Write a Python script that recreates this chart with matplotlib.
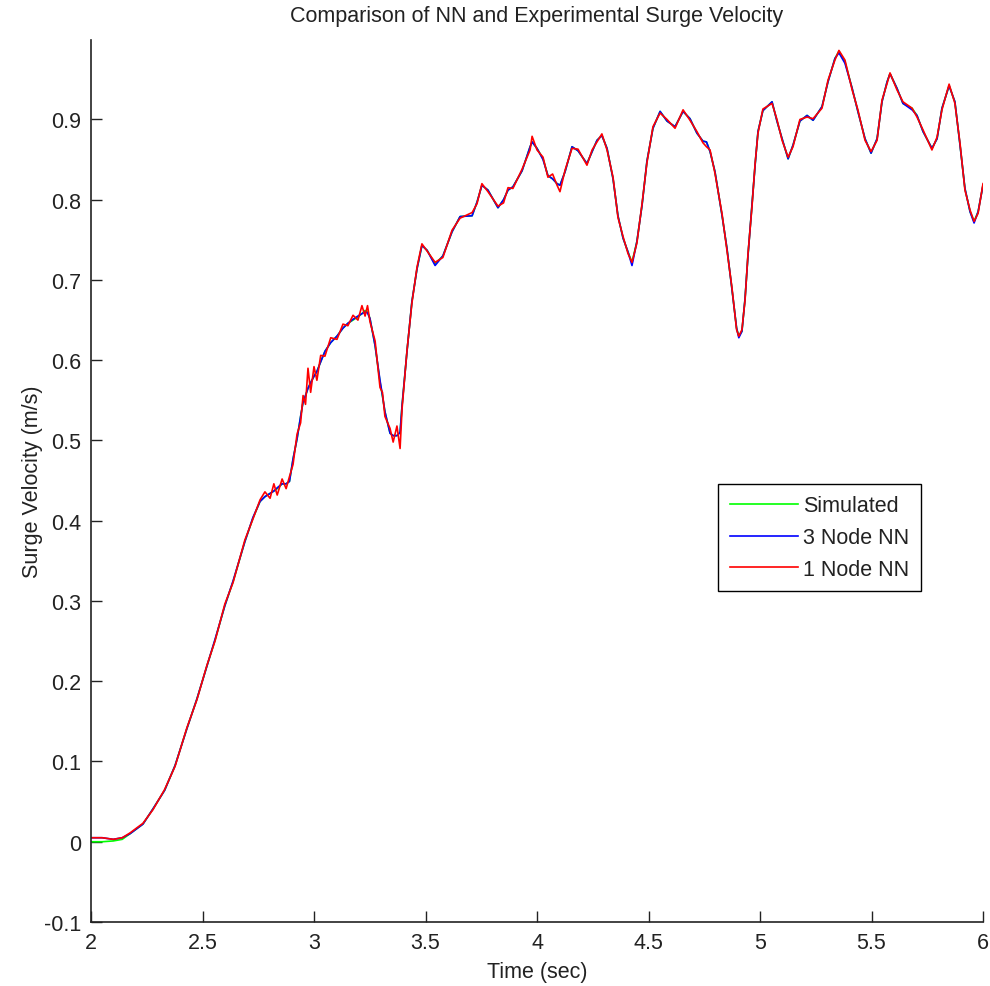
import matplotlib.pyplot as plt
import numpy as np

plt.rcParams['font.family'] = ['Liberation Sans', 'DejaVu Sans']

# Time samples (sec)
time = [2.000, 2.050, 2.100, 2.140, 2.175, 2.233, 2.278, 2.330, 2.377, 2.430,
        2.475, 2.520, 2.556, 2.600, 2.637, 2.690, 2.726, 2.758, 2.780, 2.803,
        2.820, 2.835, 2.857, 2.875, 2.890, 2.906, 2.924, 2.940, 2.951, 2.962,
        2.973, 2.985, 3.000, 3.013, 3.030, 3.049, 3.075, 3.103, 3.130, 3.152,
        3.175, 3.197, 3.215, 3.229, 3.240, 3.251, 3.274, 3.296, 3.307, 3.318,
        3.341, 3.355, 3.372, 3.386, 3.395, 3.417, 3.439, 3.462, 3.484, 3.507,
        3.543, 3.578, 3.619, 3.655, 3.709, 3.731, 3.753, 3.780, 3.825, 3.850,
        3.870, 3.892, 3.933, 3.969, 3.978, 4.000, 4.027, 4.049, 4.070, 4.090,
        4.103, 4.126, 4.157, 4.184, 4.224, 4.247, 4.269, 4.291, 4.314, 4.341,
        4.363, 4.386, 4.408, 4.426, 4.448, 4.471, 4.493, 4.520, 4.552, 4.583,
        4.619, 4.655, 4.686, 4.717, 4.744, 4.760, 4.776, 4.798, 4.830, 4.852,
        4.874, 4.895, 4.905, 4.919, 4.933, 4.946, 4.964, 4.978, 4.991, 5.013,
        5.054, 5.076, 5.099, 5.126, 5.148, 5.179, 5.211, 5.238, 5.278, 5.305,
        5.336, 5.354, 5.381, 5.413, 5.439, 5.471, 5.498, 5.525, 5.547, 5.570,
        5.583, 5.614, 5.641, 5.682, 5.704, 5.731, 5.771, 5.794, 5.816, 5.848,
        5.874, 5.897, 5.919, 5.942, 5.960, 5.978, 6.000]

# Surge velocity (m/s)
simulated = [0.000, 0.000, 0.001, 0.003, 0.010, 0.022, 0.041, 0.064, 0.095, 0.141,
             0.178, 0.219, 0.251, 0.294, 0.324, 0.374, 0.403, 0.424, 0.430, 0.434,
             0.437, 0.440, 0.446, 0.446, 0.449, 0.477, 0.502, 0.530, 0.548, 0.556,
             0.565, 0.572, 0.580, 0.586, 0.598, 0.611, 0.622, 0.630, 0.640, 0.646,
             0.650, 0.654, 0.658, 0.662, 0.660, 0.652, 0.618, 0.573, 0.555, 0.536,
             0.509, 0.506, 0.506, 0.510, 0.544, 0.611, 0.673, 0.714, 0.743, 0.737,
             0.720, 0.730, 0.760, 0.779, 0.780, 0.797, 0.818, 0.812, 0.790, 0.800,
             0.812, 0.816, 0.836, 0.866, 0.872, 0.864, 0.851, 0.830, 0.826, 0.820,
             0.818, 0.835, 0.866, 0.861, 0.845, 0.860, 0.874, 0.880, 0.864, 0.826,
             0.780, 0.752, 0.735, 0.722, 0.748, 0.793, 0.848, 0.889, 0.910, 0.898,
             0.891, 0.910, 0.901, 0.883, 0.873, 0.872, 0.860, 0.835, 0.780, 0.739,
             0.689, 0.640, 0.630, 0.636, 0.677, 0.730, 0.793, 0.843, 0.885, 0.911,
             0.922, 0.898, 0.876, 0.851, 0.868, 0.898, 0.905, 0.899, 0.916, 0.947,
             0.976, 0.985, 0.972, 0.939, 0.910, 0.876, 0.858, 0.876, 0.922, 0.947,
             0.957, 0.939, 0.920, 0.914, 0.905, 0.885, 0.864, 0.876, 0.914, 0.942,
             0.922, 0.868, 0.814, 0.785, 0.773, 0.785, 0.818]

nn_3node = [0.005, 0.005, 0.003, 0.005, 0.010, 0.022, 0.041, 0.064, 0.095, 0.141,
            0.178, 0.219, 0.252, 0.294, 0.325, 0.374, 0.404, 0.424, 0.430, 0.434,
            0.437, 0.441, 0.446, 0.446, 0.449, 0.477, 0.502, 0.530, 0.548, 0.556,
            0.565, 0.572, 0.580, 0.586, 0.598, 0.611, 0.622, 0.630, 0.640, 0.646,
            0.651, 0.655, 0.658, 0.660, 0.659, 0.652, 0.618, 0.575, 0.556, 0.536,
            0.509, 0.506, 0.506, 0.510, 0.544, 0.611, 0.673, 0.714, 0.743, 0.737,
            0.718, 0.730, 0.760, 0.779, 0.780, 0.797, 0.818, 0.812, 0.790, 0.800,
            0.812, 0.816, 0.836, 0.866, 0.872, 0.864, 0.850, 0.830, 0.826, 0.820,
            0.818, 0.835, 0.866, 0.861, 0.845, 0.860, 0.874, 0.880, 0.864, 0.826,
            0.780, 0.752, 0.735, 0.718, 0.748, 0.793, 0.848, 0.889, 0.910, 0.898,
            0.891, 0.910, 0.901, 0.883, 0.873, 0.872, 0.860, 0.835, 0.780, 0.739,
            0.689, 0.640, 0.628, 0.636, 0.677, 0.730, 0.793, 0.843, 0.885, 0.911,
            0.922, 0.898, 0.876, 0.851, 0.868, 0.898, 0.905, 0.899, 0.916, 0.947,
            0.976, 0.983, 0.970, 0.939, 0.910, 0.876, 0.858, 0.876, 0.922, 0.947,
            0.957, 0.939, 0.920, 0.912, 0.905, 0.885, 0.864, 0.876, 0.914, 0.942,
            0.922, 0.868, 0.814, 0.785, 0.771, 0.785, 0.818]

nn_1node = [0.005, 0.005, 0.003, 0.005, 0.011, 0.023, 0.040, 0.065, 0.094, 0.142,
            0.177, 0.220, 0.250, 0.296, 0.323, 0.376, 0.402, 0.426, 0.436, 0.428,
            0.446, 0.432, 0.452, 0.440, 0.455, 0.470, 0.508, 0.522, 0.556, 0.545,
            0.590, 0.560, 0.592, 0.575, 0.606, 0.605, 0.628, 0.626, 0.645, 0.643,
            0.656, 0.650, 0.668, 0.655, 0.668, 0.648, 0.624, 0.566, 0.560, 0.530,
            0.515, 0.498, 0.518, 0.490, 0.540, 0.612, 0.671, 0.716, 0.745, 0.736,
            0.722, 0.728, 0.762, 0.777, 0.784, 0.795, 0.820, 0.810, 0.792, 0.796,
            0.815, 0.814, 0.838, 0.862, 0.879, 0.862, 0.853, 0.828, 0.832, 0.818,
            0.810, 0.837, 0.864, 0.863, 0.843, 0.862, 0.872, 0.882, 0.862, 0.828,
            0.778, 0.754, 0.733, 0.722, 0.746, 0.795, 0.846, 0.891, 0.908, 0.900,
            0.889, 0.912, 0.899, 0.885, 0.871, 0.866, 0.862, 0.833, 0.782, 0.737,
            0.691, 0.638, 0.630, 0.638, 0.675, 0.732, 0.791, 0.845, 0.883, 0.913,
            0.920, 0.900, 0.874, 0.853, 0.866, 0.900, 0.903, 0.901, 0.914, 0.949,
            0.974, 0.986, 0.974, 0.937, 0.912, 0.874, 0.860, 0.874, 0.924, 0.945,
            0.958, 0.937, 0.922, 0.914, 0.903, 0.887, 0.862, 0.878, 0.912, 0.944,
            0.920, 0.870, 0.812, 0.787, 0.773, 0.783, 0.820]

xticks = [2, 2.5, 3, 3.5, 4, 4.5, 5, 5.5, 6]
xtick_labels = ['2', '2.5', '3', '3.5', '4', '4.5', '5', '5.5', '6']
yticks = [-0.1, 0, 0.1, 0.2, 0.3, 0.4, 0.5, 0.6, 0.7, 0.8, 0.9]
ytick_labels = ['-0.1', '0', '0.1', '0.2', '0.3', '0.4', '0.5', '0.6', '0.7', '0.8', '0.9']

fs = 15.5

fig = plt.figure(figsize=(9.9, 9.87), dpi=100)
ax = fig.add_axes([91 / 990, 1 - 923 / 987, 892 / 990, 882 / 987])

ax.plot(time, simulated, color=(0, 1, 0), lw=1.2, label='Simulated')
ax.plot(time, nn_3node, color=(0, 0, 1), lw=1.2, label='3 Node NN')
ax.plot(time, nn_1node, color=(1, 0, 0), lw=1.2, label='1 Node NN')

ax.set_xlim(2, 6)
ax.set_ylim(-0.1, 0.999)
ax.set_xticks(xticks)
ax.set_xticklabels(xtick_labels)
ax.set_yticks(yticks)
ax.set_yticklabels(ytick_labels)

for side in ['top', 'right']:
    ax.spines[side].set_visible(False)
for side in ['left', 'bottom']:
    ax.spines[side].set_linewidth(1.2)
    ax.spines[side].set_color('#222222')

ax.tick_params(direction='in', length=8, width=1.0, labelsize=fs,
               color='#222222', pad=7, labelcolor='#222222')

ax.set_title('Comparison of NN and Experimental Surge Velocity',
             fontsize=fs, pad=14, color='#222222')
ax.set_xlabel('Time (sec)', fontsize=fs, labelpad=6, color='#222222')
ax.set_ylabel('Surge Velocity (m/s)', fontsize=fs, labelpad=1, color='#222222')

leg = ax.legend(loc='upper left', bbox_to_anchor=(0.703, 0.497),
                fontsize=fs, handlelength=3.15, handletextpad=0.25,
                labelspacing=0.49, borderpad=0.55, borderaxespad=0,
                fancybox=False, framealpha=1, edgecolor='black')
leg.get_frame().set_linewidth(1.0)
for text in leg.get_texts():
    text.set_color('#222222')

fig.savefig('out.png', dpi=100)
